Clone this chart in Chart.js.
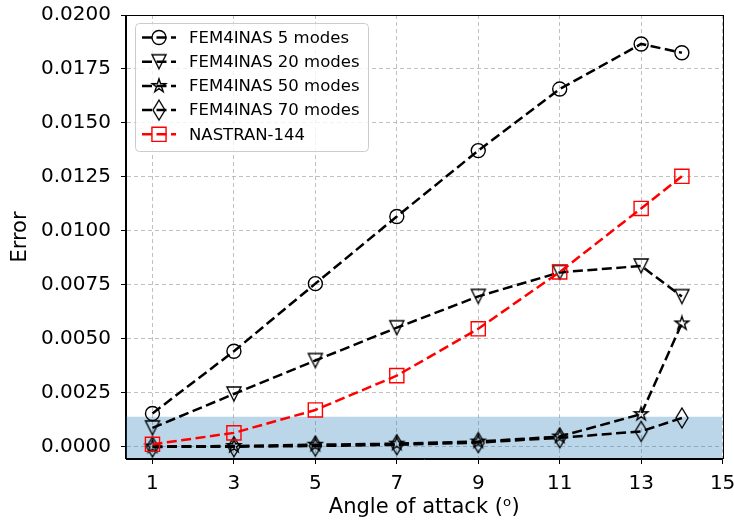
<!DOCTYPE html>
<html>
<head>
<meta charset="utf-8">
<script src="https://cdn.jsdelivr.net/npm/chart.js@4"></script>
<style>
  html, body { margin: 0; padding: 0; background: #fff; }
  canvas { display: block; }
</style>
</head>
<body>
<canvas id="chart" width="734" height="523"></canvas>
<script>
// ---- data ----
const angles  = [1, 3, 5, 7, 9, 11, 13, 14];
const fem5    = [0.00155, 0.00443, 0.00756, 0.01067, 0.01372, 0.01657, 0.01866, 0.01825];
const fem20   = [0.00088, 0.00245, 0.00400, 0.00552, 0.00697, 0.00808, 0.00838, 0.00696];
const fem50   = [0.00002, 0.00004, 0.00010, 0.00015, 0.00025, 0.00048, 0.00152, 0.00572];
const fem70   = [0.00000, 0.00001, 0.00004, 0.00010, 0.00020, 0.00042, 0.00072, 0.00134];
const nastran = [0.00012, 0.00065, 0.00171, 0.00330, 0.00547, 0.00810, 0.01104, 0.01253];

const xTicks = [1, 3, 5, 7, 9, 11, 13, 15];
const yTicks = [0, 0.0025, 0.005, 0.0075, 0.01, 0.0125, 0.015, 0.0175, 0.02];
const xRange = [0.35, 15];
const yRange = [-0.00056, 0.02];
const bandTop = 0.0014;   // shaded tolerance band

const FONT = "'DejaVu Sans', sans-serif";

/* --------- hollow matplotlib-like markers --------- */
function marker(w, h, pts) {
  const c = document.createElement('canvas');
  c.width = w; c.height = h;
  const g = c.getContext('2d');
  g.strokeStyle = '#000';
  g.lineWidth = 1.4;
  g.lineJoin = 'miter';
  g.beginPath();
  pts.forEach(([x, y], i) => i ? g.lineTo(w / 2 + x, h / 2 + y) : g.moveTo(w / 2 + x, h / 2 + y));
  g.closePath();
  g.stroke();
  return c;
}
const triDown = marker(18, 18, [[-7, -7], [7, -7], [0, 7]]);
const thinDiamond = marker(16, 24, [[0, -10], [6, 0], [0, 10], [-6, 0]]);
const starPts = [];
for (let i = 0; i < 10; i++) {
  const r = i % 2 ? 2.7 : 7.1;
  const a = -Math.PI / 2 + i * Math.PI / 5;
  starPts.push([r * Math.cos(a), r * Math.sin(a)]);
}
const star = marker(18, 18, starPts);

function series(label, values, color, style, radius, order) {
  return {
    label,
    data: values.map((v, i) => ({ x: angles[i], y: v })),
    borderColor: color,
    borderWidth: 2.5,
    borderDash: [10, 4.5],
    pointStyle: style,
    pointRadius: radius,
    pointBorderColor: color,
    pointBorderWidth: 1.4,
    pointBackgroundColor: 'rgba(0,0,0,0)',
    fill: false,
    tension: 0,
    order
  };
}

const shown = [
  series('FEM4INAS 5 modes', fem5, '#000', 'circle', 7, 5),
  series('FEM4INAS 20 modes', fem20, '#000', triDown, 7, 4),
  series('FEM4INAS 50 modes', fem50, '#000', star, 7, 3),
  series('FEM4INAS 70 modes', fem70, '#000', thinDiamond, 7, 2),
  series('NASTRAN-144', nastran, '#ff0000', 'rect', 10, 1)
];

const band = {
  label: 'band',
  data: xRange.map(x => ({ x, y: bandTop })),
  borderWidth: 0,
  pointRadius: 0,
  backgroundColor: 'rgba(31,119,180,0.3)',
  fill: 'start',
  order: 10
};

/* --------- legend box + frame --------- */
const legendBox = {
  id: 'legendBox',
  afterDatasetsDraw(chart) {
    const ctx = chart.ctx;
    const a = chart.chartArea;
    ctx.save();
    // top/right spines
    ctx.strokeStyle = '#000';
    ctx.lineWidth = 1;
    ctx.strokeRect(Math.round(a.left) - 0.5, Math.round(a.top) + 0.5,
                   Math.round(a.right - a.left) + 1, Math.round(a.bottom - a.top) - 1);

    const x0 = 135, y0 = 23, w = 233, h = 128;
    ctx.beginPath();
    ctx.roundRect(x0 + 0.5, y0 + 0.5, w, h, 4);
    ctx.fillStyle = 'rgba(255,255,255,0.8)';
    ctx.fill();
    ctx.strokeStyle = '#cccccc';
    ctx.stroke();

    ctx.font = '16.5px ' + FONT;
    ctx.textBaseline = 'middle';
    shown.forEach((ds, i) => {
      const y = 37.5 + i * 24.2;
      ctx.save();
      ctx.strokeStyle = ds.borderColor;
      ctx.lineWidth = ds.borderWidth;
      ctx.setLineDash(ds.borderDash);
      ctx.beginPath();
      ctx.moveTo(142, y);
      ctx.lineTo(176, y);
      ctx.stroke();
      ctx.restore();
      ctx.save();
      ctx.strokeStyle = ds.borderColor;
      ctx.fillStyle = 'rgba(0,0,0,0)';
      ctx.lineWidth = ds.pointBorderWidth;
      Chart.helpers.drawPoint(ctx, {
        pointStyle: ds.pointStyle, radius: ds.pointRadius,
        borderWidth: ds.pointBorderWidth, rotation: 0
      }, 159, y);
      ctx.restore();
      ctx.fillStyle = '#000';
      ctx.fillText(ds.label, 189, y + 1);
    });
    ctx.restore();
  }
};

const gridStyle = {
  color: '#b0b0b0',
  lineWidth: 0.8,
  borderDash: [4, 3],
  tickColor: '#000',
  tickLength: 5,
  tickWidth: 1,
  tickBorderDash: []
};

new Chart(document.getElementById('chart').getContext('2d'), {
  type: 'line',
  data: { datasets: [...shown, band] },
  options: {
    responsive: false,
    animation: false,
    layout: { padding: { left: 0, top: 15, right: 7, bottom: 0 } },
    plugins: { legend: { display: false }, tooltip: { enabled: false } },
    scales: {
      x: {
        type: 'linear',
        min: xRange[0],
        max: xRange[1],
        afterBuildTicks: s => { s.ticks = xTicks.map(v => ({ value: v })); },
        afterFit: s => { s.height = 64; s.paddingLeft = 0; s.paddingRight = 0; },
        ticks: {
          color: '#000',
          font: { family: FONT, size: 20 },
          padding: 8,
          maxRotation: 0,
          autoSkip: false,
          callback: v => String(v)
        },
        grid: gridStyle,
        border: { display: true, color: '#000', width: 1, dash: [4, 3] },
        title: {
          display: true,
          text: 'Angle of attack (ᵒ)',
          color: '#000',
          font: { family: FONT, size: 21 },
          padding: { top: 0, bottom: 3 }
        }
      },
      y: {
        type: 'linear',
        min: yRange[0],
        max: yRange[1],
        afterBuildTicks: s => { s.ticks = yTicks.map(v => ({ value: v })); },
        afterFit: s => { s.width = 126; s.paddingTop = 0; s.paddingBottom = 0; },
        ticks: {
          color: '#000',
          font: { family: FONT, size: 20 },
          padding: 10,
          autoSkip: false,
          callback: v => v.toFixed(4)
        },
        grid: gridStyle,
        border: { display: true, color: '#000', width: 1, dash: [4, 3] },
        title: {
          display: true,
          text: 'Error',
          color: '#000',
          font: { family: FONT, size: 21 },
          padding: { top: 8, bottom: 0 }
        }
      }
    }
  },
  plugins: [legendBox]
});
</script>
</body>
</html>
